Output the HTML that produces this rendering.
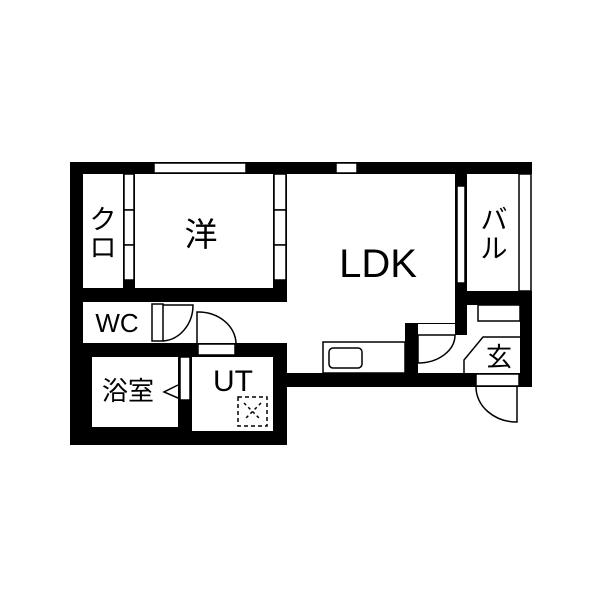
<!DOCTYPE html>
<html><head><meta charset="utf-8"><style>
html,body{margin:0;padding:0;background:#fff;width:600px;height:600px;overflow:hidden}
svg{display:block}
text{font-family:"Liberation Sans","Noto Sans CJK JP",sans-serif;fill:#000}
</style></head><body>
<svg width="600" height="600" viewBox="0 0 600 600">
<g fill="#000">
<rect x="70" y="162" width="462" height="12"/>
<rect x="70" y="162" width="13" height="283"/>
<rect x="70" y="431" width="217" height="14"/>
<rect x="123" y="174" width="12" height="115"/>
<rect x="273" y="174" width="14" height="128"/>
<rect x="70" y="288" width="217" height="14"/>
<rect x="70" y="343" width="217" height="14"/>
<rect x="70" y="343" width="22" height="102"/>
<rect x="70" y="427" width="122" height="18"/>
<rect x="178" y="343" width="14" height="102"/>
<rect x="273" y="343" width="14" height="102"/>
<rect x="273" y="373" width="259" height="14"/>
<rect x="455" y="162" width="12" height="173"/>
<rect x="455" y="291" width="77" height="14"/>
<rect x="520" y="291" width="12" height="96"/>
<rect x="405" y="323" width="13" height="64"/>
<rect x="405" y="323" width="62" height="12"/>
<rect x="519" y="162" width="13" height="12"/>
</g>
<g fill="#fff" stroke="#000" stroke-width="1.5">
<rect x="154" y="163" width="92" height="10"/>
<rect x="336" y="163" width="21" height="10"/>
<rect x="124" y="174" width="10" height="36"/>
<rect x="124" y="210" width="10" height="35"/>
<rect x="124" y="245" width="10" height="35"/>
<rect x="274" y="174" width="12" height="36"/>
<rect x="274" y="210" width="12" height="35"/>
<rect x="274" y="245" width="12" height="35"/>
<rect x="152" y="304" width="11" height="37"/>
<rect x="198" y="344" width="37" height="11"/>
<rect x="180" y="357" width="10" height="43"/>
<rect x="457" y="186" width="8" height="97"/>
<rect x="519" y="174" width="12" height="117"/>
<rect x="418" y="324" width="37" height="11" stroke="none"/>
<line x1="418" y1="335" x2="455" y2="335"/>
<rect x="476" y="374" width="43" height="12"/>
<rect x="92" y="357" width="86" height="70" stroke="none"/>
<rect x="192" y="357" width="81" height="74" stroke="none"/>
<rect x="467" y="305" width="53" height="68" stroke="none"/>
<rect x="478" y="305" width="42" height="16"/>
<rect x="323" y="342" width="82" height="31"/>
<rect x="329" y="348" width="33" height="20" rx="4"/>
</g>
<g fill="none" stroke="#000" stroke-width="1.5">
<path d="M163 305 H193 A32 36 0 0 1 163 341"/>
<path d="M197 344 V312 A38 32 0 0 1 236 344"/>
<path d="M418 335 V363 A37 28 0 0 0 455 335"/>
<path d="M517 387 V422 A41 35 0 0 1 476 387"/>
<path d="M464 373 V360 L483 337 H520"/>
<path d="M178 385 L164 392 L178 398"/>
<rect x="238" y="397" width="29" height="29" stroke-dasharray="4 3"/>
<path d="M244 403 L261 420 M261 403 L244 420" stroke-dasharray="3 3"/>
</g>
<text x="201" y="246" font-size="33" text-anchor="middle">洋</text>
<text x="103" y="229" font-size="27" text-anchor="middle">ク</text>
<text x="103" y="257" font-size="27" text-anchor="middle">ロ</text>
<text x="494" y="229" font-size="27" text-anchor="middle">バ</text>
<text x="494" y="258" font-size="27" text-anchor="middle">ル</text>
<text x="378" y="277" font-size="40" text-anchor="middle">LDK</text>
<text x="117" y="332" font-size="26" text-anchor="middle">WC</text>
<text x="128" y="400" font-size="26" text-anchor="middle">浴室</text>
<text x="233" y="391" font-size="30" text-anchor="middle">UT</text>
<text x="499" y="366" font-size="26" text-anchor="middle">玄</text>
</svg>
</body></html>
